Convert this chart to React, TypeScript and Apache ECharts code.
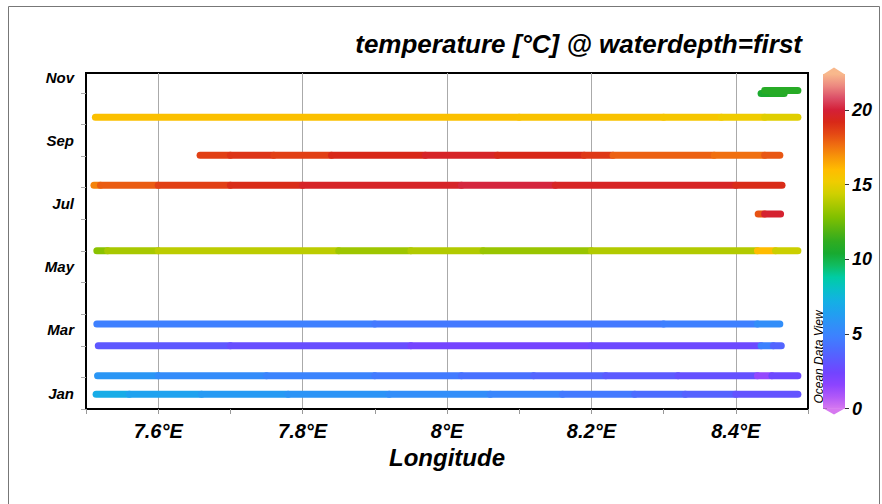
import React, { useEffect, useRef } from "react";
import * as echarts from "echarts";

// ---- axis / label values ----
const MONTH_NAMES = ["Jan", "Feb", "Mar", "Apr", "May", "Jun", "Jul", "Aug", "Sep", "Oct", "Nov", "Dec"];
const Y_TICKS = [0, 1, 2, 3, 4, 5, 6, 7, 8, 9, 10];
const Y_LABELS = [0.5, 2.5, 4.5, 6.5, 8.5, 10.5];
const X_TICKS = [7.5, 7.6, 7.7, 7.8, 7.9, 8.0, 8.1, 8.2, 8.3, 8.4, 8.5];
const X_LABELS = [7.6, 7.8, 8.0, 8.2, 8.4];
const CB_TICKS = [0, 5, 10, 15, 20];
const T_MIN = 0;
const T_MAX = 22.4;

// ODV-like palette, evenly spaced from T_MIN to T_MAX
const PALETTE = [
  "#d678f0", "#b058f8", "#8c44ff", "#7244ff", "#5e58ff", "#4c6cff", "#3e80ff", "#3090f8",
  "#20a0f0", "#14b0e4", "#08c0c8", "#00cca4", "#10bc60", "#18aa30", "#30ac20", "#58b410",
  "#80c000", "#a8c800", "#d0d000", "#f0cc00", "#ffbc00", "#f89808", "#f07010", "#e44814",
  "#d82818", "#d42038", "#dc5068", "#ec8880", "#f8b88c",
];

// ---- tracks: time (months since Jan 1) and segments [lonStart, lonEnd, temperature] ----
const TRACK_TIMES = [0.47, 1.05, 2.0, 2.69, 5.01, 6.17, 7.08, 8.03, 9.23, 9.98, 10.08];

const trackJan = [
  [7.514, 7.56, 7.0], [7.56, 7.66, 6.5], [7.66, 7.78, 6.1], [7.78, 7.92, 5.8], [7.92, 8.06, 5.5],
  [8.06, 8.16, 5.1], [8.16, 8.26, 4.5], [8.26, 8.33, 4.0], [8.33, 8.4, 3.6], [8.4, 8.486, 3.0],
];
const trackFebA = [
  [7.516, 7.6, 5.9], [7.6, 7.75, 5.4], [7.75, 7.9, 5.0], [7.9, 8.02, 4.6], [8.02, 8.12, 4.2],
  [8.12, 8.22, 3.7], [8.22, 8.32, 3.3], [8.32, 8.43, 2.9], [8.43, 8.45, 1.4], [8.45, 8.486, 2.6],
];
const trackFebB = [
  [7.517, 7.7, 3.2], [7.7, 7.95, 2.8], [7.95, 8.2, 2.3], [8.2, 8.435, 2.6], [8.435, 8.452, 4.9], [8.452, 8.463, 3.7],
];
const trackMar = [
  [7.515, 7.9, 4.8], [7.9, 8.3, 4.5], [8.3, 8.43, 4.8], [8.43, 8.461, 5.5],
];
const trackMay = [
  [7.515, 7.53, 13.0], [7.53, 7.6, 13.6], [7.6, 7.85, 14.0], [7.85, 7.95, 13.4], [7.95, 8.05, 13.8],
  [8.05, 8.2, 13.3], [8.2, 8.43, 13.8], [8.43, 8.455, 16.0], [8.455, 8.486, 14.3],
];
const trackJun = [
  [8.431, 8.44, 18.2], [8.44, 8.462, 19.8],
];
const trackJul = [
  [7.511, 7.52, 17.2], [7.52, 7.6, 18.0], [7.6, 7.7, 18.6], [7.7, 7.8, 19.1], [7.8, 8.02, 19.6],
  [8.02, 8.15, 20.1], [8.15, 8.4, 19.5], [8.4, 8.464, 19.1],
];
const trackAug = [
  [7.658, 7.7, 18.6], [7.7, 7.76, 18.9], [7.76, 7.84, 18.6], [7.84, 7.97, 19.2], [7.97, 8.07, 19.6],
  [8.07, 8.19, 19.2], [8.19, 8.23, 18.8], [8.23, 8.37, 17.9], [8.37, 8.44, 17.6], [8.44, 8.461, 18.1],
];
const trackSep = [
  [7.513, 8.1, 15.8], [8.1, 8.3, 15.7], [8.3, 8.38, 15.5], [8.38, 8.44, 15.2], [8.44, 8.486, 14.8],
];
const trackOctA = [
  [8.435, 8.45, 10.5], [8.45, 8.467, 10.8],
];
const trackOctB = [
  [8.44, 8.486, 10.9],
];

const TRACK_SEGMENTS = [trackJan, trackFebA, trackFebB, trackMar, trackMay, trackJun, trackJul, trackAug, trackSep, trackOctA, trackOctB];

const FONT = "'Liberation Sans', Arial, Helvetica, sans-serif";

export default function App() {
  const ref = useRef<HTMLDivElement>(null);

  useEffect(() => {
    if (!ref.current) return;
    const chart = echarts.init(ref.current, null, { renderer: "svg" });

    const segData: number[][] = [];
    TRACK_SEGMENTS.forEach((segs, i) => {
      segs.forEach((s) => segData.push([s[0], s[1], TRACK_TIMES[i], s[2]]));
    });

    const gradStops = PALETTE.map((c, i) => ({ offset: i / (PALETTE.length - 1), color: c }));

    const option: any = {
      animation: false,
      backgroundColor: "#ffffff",
      textStyle: { fontFamily: FONT },
      title: {
        text: "temperature [°C] @ waterdepth=first",
        right: 80,
        top: 31,
        padding: 0,
        textStyle: { fontSize: 26, fontWeight: "bold", fontStyle: "italic", color: "#000", fontFamily: FONT },
      },
      grid: [
        { left: 86, right: 74, top: 73, bottom: 95, show: true, borderColor: "#000", borderWidth: 2, backgroundColor: "transparent" },
        { left: 823, width: 22, top: 74, bottom: 504 - 408.7 },
      ],
      xAxis: [
        {
          type: "value",
          gridIndex: 0,
          min: 7.5,
          max: 8.5,
          position: "bottom",
          name: "Longitude",
          nameLocation: "middle",
          nameGap: 31,
          nameTextStyle: { fontSize: 24, fontWeight: "bold", fontStyle: "italic", color: "#000", fontFamily: FONT },
          axisLine: { show: true, lineStyle: { color: "#000", width: 2 } },
          axisTick: { show: true, customValues: X_TICKS, length: 5, lineStyle: { color: "#999" } },
          axisLabel: {
            customValues: X_LABELS,
            margin: 12,
            fontSize: 20,
            fontWeight: "bold",
            fontStyle: "italic",
            color: "#000",
            fontFamily: FONT,
            formatter: (v: number) => `${v}°E`,
          },
          splitLine: { show: false },
        },
        {
          type: "value",
          gridIndex: 0,
          min: 7.5,
          max: 8.5,
          position: "top",
          axisLine: { show: false },
          axisTick: { show: false, customValues: X_LABELS },
          axisLabel: { show: false },
          splitLine: { show: true, lineStyle: { color: "#aaa", width: 1 } },
        },
        {
          type: "category",
          gridIndex: 1,
          data: ["cb"],
          show: false,
        },
      ],
      yAxis: [
        {
          type: "value",
          gridIndex: 0,
          min: 0,
          max: 10.63,
          axisLine: { show: true, lineStyle: { color: "#000", width: 2 } },
          axisTick: { show: true, customValues: Y_TICKS, length: 5, lineStyle: { color: "#aaa" } },
          axisLabel: {
            customValues: Y_LABELS,
            margin: 12,
            fontSize: 15,
            fontWeight: "bold",
            fontStyle: "italic",
            color: "#000",
            fontFamily: FONT,
            formatter: (v: number) => MONTH_NAMES[Math.floor(v)],
          },
          splitLine: { show: false },
        },
        {
          type: "value",
          gridIndex: 1,
          min: T_MIN,
          max: T_MAX,
          position: "right",
          axisLine: { show: false },
          axisTick: { show: true, customValues: CB_TICKS, length: 4, lineStyle: { color: "#333" } },
          axisLabel: {
            customValues: CB_TICKS,
            margin: 7,
            fontSize: 18,
            fontWeight: "bold",
            fontStyle: "italic",
            color: "#000",
            fontFamily: FONT,
          },
          splitLine: { show: false },
        },
        {
          type: "value",
          gridIndex: 1,
          min: T_MIN,
          max: T_MAX,
          position: "left",
          axisLine: { show: false },
          axisTick: { show: true, inside: true, customValues: CB_TICKS, length: 4, lineStyle: { color: "#333" } },
          axisLabel: { show: false },
          splitLine: { show: false },
        },
      ],
      visualMap: {
        type: "continuous",
        show: false,
        min: T_MIN,
        max: T_MAX,
        dimension: 3,
        seriesIndex: 0,
        inRange: { color: PALETTE },
      },
      series: [
        {
          type: "custom",
          xAxisIndex: 0,
          yAxisIndex: 0,
          encode: { x: [0, 1], y: 2 },
          data: segData,
          renderItem: (params: any, api: any) => {
            const p1 = api.coord([api.value(0), api.value(2)]);
            const p2 = api.coord([api.value(1), api.value(2)]);
            return {
              type: "line",
              shape: { x1: p1[0], y1: p1[1], x2: p2[0], y2: p2[1] },
              style: { stroke: api.visual("color"), lineWidth: 7, lineCap: "round", fill: null },
            };
          },
        },
        {
          type: "bar",
          xAxisIndex: 2,
          yAxisIndex: 1,
          data: [T_MAX],
          barWidth: "100%",
          itemStyle: { color: new echarts.graphic.LinearGradient(0, 1, 0, 0, gradStops) },
          silent: true,
        },
      ],
      graphic: [
        {
          type: "rect",
          shape: { x: 8.5, y: 6.5, width: 871, height: 600 },
          style: { fill: "none", stroke: "#777", lineWidth: 1 },
          silent: true,
        },
        {
          type: "polygon",
          shape: { points: [[823, 74.5], [834, 67.5], [845, 74.5]] },
          style: { fill: PALETTE[PALETTE.length - 1] },
          silent: true,
        },
        {
          type: "polygon",
          shape: { points: [[823, 408.2], [834, 414.5], [845, 408.2]] },
          style: { fill: PALETTE[0] },
          silent: true,
        },
        {
          type: "text",
          x: 819,
          y: 357,
          rotation: Math.PI / 2,
          style: {
            text: "Ocean Data View",
            fontSize: 12,
            fontStyle: "italic",
            fontFamily: FONT,
            fill: "#000",
            align: "center",
            verticalAlign: "middle",
          },
          silent: true,
        },
      ],
    };

    chart.setOption(option);
    return () => chart.dispose();
  }, []);

  return (
    <div
      ref={ref}
      style={{ position: "fixed", left: 0, top: 0, width: 882, height: 504, background: "#fff" }}
    />
  );
}
